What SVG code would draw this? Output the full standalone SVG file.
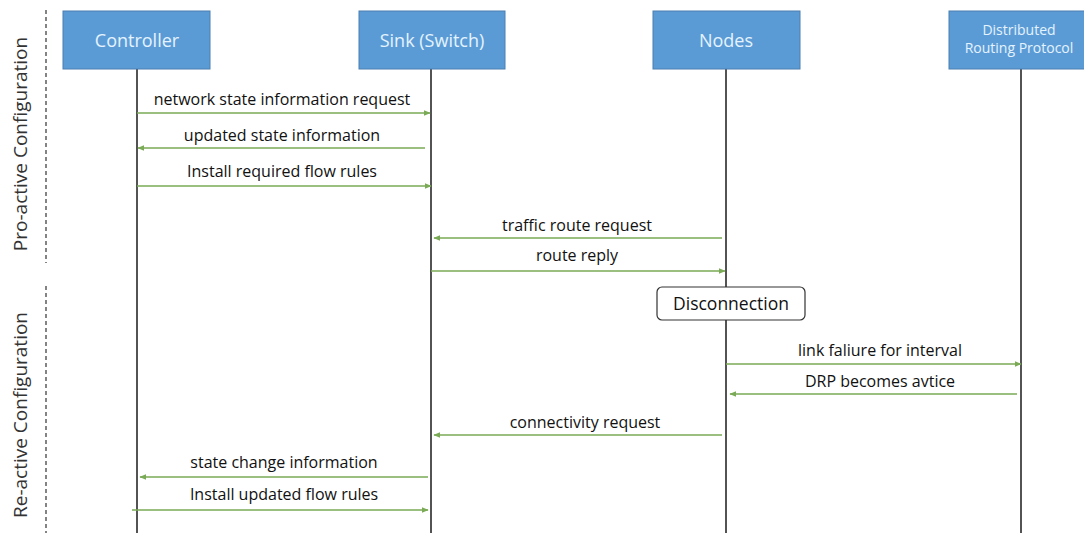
<svg xmlns="http://www.w3.org/2000/svg" width="1084" height="533" viewBox="0 0 1084 533">
<style>
.box{fill:#5b9bd5;stroke:#4a7fb0;stroke-width:1}
.bt{font-family:"Open Sans","Liberation Sans",sans-serif;fill:#e4f3ff;text-anchor:middle}
.life{stroke:#1a1a1a;stroke-width:1.5}
.msg{stroke:#7aaa55;stroke-width:1.3;fill:none}
.lbl{font-family:"Open Sans","Liberation Sans",sans-serif;font-size:16px;fill:#111;text-anchor:middle}
.side{font-family:"Open Sans","Liberation Sans",sans-serif;font-size:19px;fill:#333;text-anchor:middle}
.dash{stroke:#333;stroke-width:1.2;stroke-dasharray:4,3}
</style>
<defs>
<marker id="ah" viewBox="0 0 10 10" refX="9" refY="5" markerWidth="7" markerHeight="7" orient="auto" markerUnits="userSpaceOnUse">
<path d="M0,1 L10,5 L0,9 z" fill="#7aaa55"/>
</marker>
</defs>
<rect width="1084" height="533" fill="#ffffff"/>
<g id="sections">
<line class="dash" x1="46" y1="10" x2="46" y2="263"/>
<line class="dash" x1="46" y1="286" x2="46" y2="533"/>
<text class="side" transform="translate(27,144) rotate(-90)">Pro-active Configuration</text>
<text class="side" transform="translate(27,415) rotate(-90)">Re-active Configuration</text>
</g>
<g id="lifelines">
<line class="life" x1="137" y1="69" x2="137" y2="533"/>
<line class="life" x1="431" y1="69" x2="431" y2="533"/>
<line class="life" x1="726" y1="69" x2="726" y2="533"/>
<line class="life" x1="1021" y1="69" x2="1021" y2="533"/>
</g>
<g id="controller">
<rect class="box" x="63" y="11" width="147" height="58"/>
<text class="bt" x="137" y="47" font-size="18">Controller</text>
</g>
<g id="sink">
<rect class="box" x="359" y="11" width="146" height="58"/>
<text class="bt" x="432" y="47" font-size="18">Sink (Switch)</text>
</g>
<g id="nodes">
<rect class="box" x="653" y="11" width="147" height="58"/>
<text class="bt" x="726" y="47" font-size="18">Nodes</text>
</g>
<g id="drp">
<rect class="box" x="949" y="11" width="140" height="58"/>
<text class="bt" x="1019" y="35" font-size="14">Distributed</text>
<text class="bt" x="1019" y="53" font-size="14">Routing Protocol</text>
</g>
<g id="disconnection">
<rect x="657" y="287" width="148" height="33" rx="5" ry="5" fill="#ffffff" stroke="#333" stroke-width="1.2"/>
<text x="731" y="310" font-family="'Open Sans','Liberation Sans',sans-serif" font-size="17.5" fill="#111" text-anchor="middle">Disconnection</text>
</g>
<g id="connectors">
<line class="msg" x1="137" y1="113" x2="430" y2="113" marker-end="url(#ah)"/>
<text class="lbl" x="282" y="105">network state information request</text>
<line class="msg" x1="425" y1="148" x2="138" y2="148" marker-end="url(#ah)"/>
<text class="lbl" x="282" y="141">updated state information</text>
<line class="msg" x1="137" y1="186" x2="431" y2="186" marker-end="url(#ah)"/>
<text class="lbl" x="282" y="177">Install required flow rules</text>
<line class="msg" x1="722" y1="238" x2="434" y2="238" marker-end="url(#ah)"/>
<text class="lbl" x="577" y="231">traffic route request</text>
<line class="msg" x1="431" y1="271" x2="725" y2="271" marker-end="url(#ah)"/>
<text class="lbl" x="577" y="261">route reply</text>
<line class="msg" x1="726" y1="364" x2="1021" y2="364" marker-end="url(#ah)"/>
<text class="lbl" x="880" y="356">link faliure for interval</text>
<line class="msg" x1="1017" y1="394" x2="730" y2="394" marker-end="url(#ah)"/>
<text class="lbl" x="880" y="387">DRP becomes avtice</text>
<line class="msg" x1="722" y1="435" x2="434" y2="435" marker-end="url(#ah)"/>
<text class="lbl" x="585" y="428">connectivity request</text>
<line class="msg" x1="428" y1="477" x2="140" y2="477" marker-end="url(#ah)"/>
<text class="lbl" x="284" y="468">state change information</text>
<line class="msg" x1="132" y1="510" x2="428" y2="510" marker-end="url(#ah)"/>
<text class="lbl" x="284" y="500">Install updated flow rules</text>
</g>
</svg>
